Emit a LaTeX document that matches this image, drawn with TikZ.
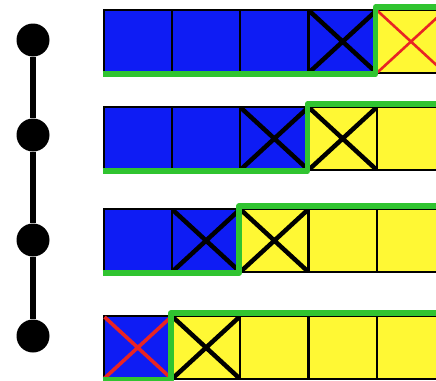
\documentclass[tikz,border=0pt]{standalone}
\usetikzlibrary{positioning}
\definecolor{cellblue}{RGB}{14,28,244}
\definecolor{cellyellow}{RGB}{255,248,52}
\definecolor{edgegreen}{RGB}{48,196,48}
\definecolor{crossred}{RGB}{232,36,36}
\tikzset{
  cell/.style={draw=black, line width=2.2pt, minimum width=68.3pt, minimum height=63pt, inner sep=0pt, anchor=north west},
  cross/.style={line width=4.5pt},
  dot/.style={circle, fill=black, minimum size=33pt, inner sep=0pt},
  frontier/.style={edgegreen, line width=5.5pt, line join=round}
}
\begin{document}
\begin{tikzpicture}[x=1pt,y=-1pt]
  \useasboundingbox (0,0) rectangle (436,380);
  \clip (0,0) rectangle (436,380);
  % steps on the left
  \node[dot] (s1) at (33,40) {};
  \node[dot] (s2) at (33,135) {};
  \node[dot] (s3) at (33,240) {};
  \node[dot] (s4) at (33,336) {};
  \draw[line width=6pt] (s1) -- (s2) -- (s3) -- (s4);
  % rows of cells: blue part, then yellow part
  \foreach \r/\top/\nb in {1/9/4, 2/106/3, 3/208/2, 4/315/1} {
    \foreach \c in {0,...,4} {
      \ifnum\c<\nb \def\col{cellblue}\else\def\col{cellyellow}\fi
      \node[cell, fill=\col] (r\r c\c) at (102.5+68.3*\c, \top) {};
    }
  }
  % crossed cells
  \foreach \n/\col/\w in {r1c3/black/4.5pt, r1c4/crossred/2.6pt, r2c2/black/4.5pt, r2c3/black/4.5pt,
                           r3c1/black/4.5pt, r3c2/black/4.5pt, r4c0/crossred/3.6pt, r4c1/black/4.5pt} {
    \draw[cross, \col, line width=\w]
      ([shift={(2pt,-2pt)}]\n.north west) -- ([shift={(-2pt,2pt)}]\n.south east)
      ([shift={(2pt,2pt)}]\n.south west) -- ([shift={(-2pt,-2pt)}]\n.north east);
  }
  % green border between the two parts
  \foreach \r/\nb in {1/4, 2/3, 3/2, 4/1} {
    \draw[frontier] (r\r c0.south west) -- (r\r c\nb.south west)
      -- ([yshift=2pt]r\r c\nb.north west) -- ++(400,0);
  }
\end{tikzpicture}
\end{document}
